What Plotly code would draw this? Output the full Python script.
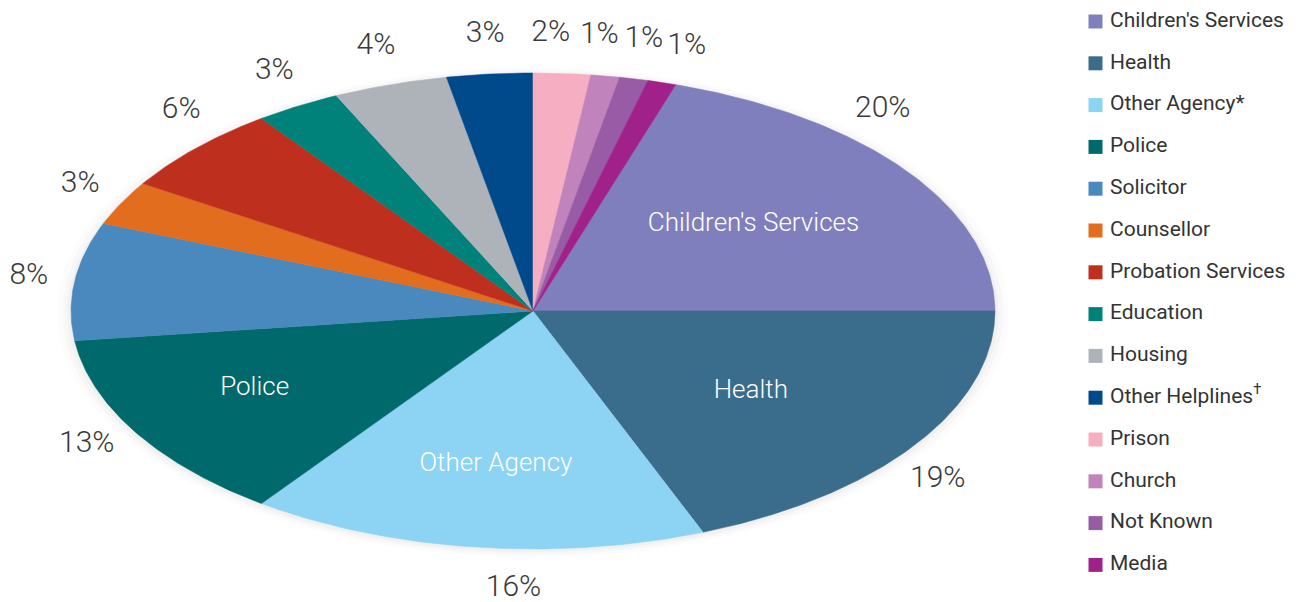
import numpy as np
import plotly.graph_objects as go

categories = ["Children's Services", "Health", "Other Agency*", "Police", "Solicitor",
              "Counsellor", "Probation Services", "Education", "Housing",
              "Other Helplines<sup>†</sup>", "Prison", "Church", "Not Known", "Media"]
values = [20, 19, 16, 13, 8, 3, 6, 3, 4, 3, 2, 1, 1, 1]
inside_labels = ["Children's Services", "Health", "Other Agency", "Police"]
colors = ["#7F7FBD", "#3A6C8C", "#8DD3F3", "#00696B", "#4A89BE", "#E36D1F", "#BE2F1E",
          "#00827A", "#AEB3BA", "#004A8C", "#F5AEC2", "#C083BB", "#985BA5", "#A0218A"]

# layout / style (page has an 8px body margin)
W, H = 1290, 594
CX, CY, RX, RY = 525, 303, 462, 238
start_deg = 18.0  # clockwise from 12 o'clock
lab_rx, lab_ry = 1.10, 1.168
label_nudge = {0: -10.5, 1: 3, 2: -5, 3: 2, 6: 3, 10: -1.6, 11: -1.5, 13: 1.4}
inside_r = [(0.59, 0.62), (0.57, 0.60), (0.64, 0.65), (0.70, 0.64)]
LEG_X_MARK, LEG_X_TEXT, LEG_Y0, LEG_DY = 1087.5, 1102, 13.5, 41.8

fig = go.Figure()

# faint shadow
for s, op in [(1.03, 0.012), (1.018, 0.018), (1.008, 0.025)]:
    t = np.linspace(0, 2 * np.pi, 200)
    fig.add_trace(go.Scatter(x=s * np.sin(t), y=s * np.cos(t) - 0.006, mode="lines",
                             fill="toself", fillcolor=f"rgba(0,0,0,{op})",
                             line=dict(width=0), hoverinfo="skip", showlegend=False))

total = sum(values)
ang = start_deg
mids = []
for i, v in enumerate(values):
    span = 360.0 * v / total
    t = np.radians(np.linspace(ang, ang + span, max(int(span * 2), 4)))
    xs = np.concatenate([[0], np.sin(t), [0]])
    ys = np.concatenate([[0], np.cos(t), [0]])
    fig.add_trace(go.Scatter(x=xs, y=ys, mode="lines", fill="toself",
                             fillcolor=colors[i], line=dict(width=0.5, color=colors[i]),
                             hoverinfo="text", text=f"{categories[i]}: {v}%",
                             name=categories[i], showlegend=False))
    mids.append(ang + span / 2)
    ang += span

# outside percentage labels
lx, ly, lt = [], [], []
for i, v in enumerate(values):
    a = np.radians(mids[i] + label_nudge.get(i, 0))
    lx.append(lab_rx * np.sin(a))
    ly.append(lab_ry * np.cos(a))
    lt.append(f"{v}%")
fig.add_trace(go.Scatter(x=lx, y=ly, mode="text", text=lt, textposition="middle center",
                         textfont=dict(family="Roboto", size=30, color="#3a3a3a", weight=300),
                         hoverinfo="skip", showlegend=False))

# inside labels
ix, iy = [], []
for i, lab in enumerate(inside_labels):
    a = np.radians(mids[i])
    ix.append(inside_r[i][0] * np.sin(a))
    iy.append(inside_r[i][1] * np.cos(a))
fig.add_trace(go.Scatter(x=ix, y=iy, mode="text", text=inside_labels,
                         textposition="middle center",
                         textfont=dict(family="Roboto", size=26, color="white", weight=300),
                         hoverinfo="skip", showlegend=False))

# legend (drawn on a second pair of axes in pixel units)
idx = list(range(len(categories)))
fig.add_trace(go.Scatter(x=[LEG_X_MARK] * len(idx), y=idx, mode="markers",
                         marker=dict(symbol="square", size=14, color=colors, line=dict(width=0)),
                         xaxis="x2", yaxis="y2", hoverinfo="skip", showlegend=False))
fig.add_trace(go.Scatter(x=[LEG_X_TEXT] * len(idx), y=idx, mode="text", text=categories,
                         textposition="middle right",
                         textfont=dict(family="Roboto", size=21, color="#333333"),
                         xaxis="x2", yaxis="y2", hoverinfo="skip", showlegend=False))

fig.update_layout(
    width=W, height=H,
    margin=dict(l=0, r=0, t=0, b=0),
    paper_bgcolor="white", plot_bgcolor="rgba(0,0,0,0)",
    xaxis=dict(range=[-CX / RX, (W - CX) / RX], visible=False, domain=[0, 1], fixedrange=True),
    yaxis=dict(range=[(CY - H) / RY, CY / RY], visible=False, domain=[0, 1], fixedrange=True),
    xaxis2=dict(range=[0, W], visible=False, domain=[0, 1], anchor="y2", overlaying="x",
                fixedrange=True),
    yaxis2=dict(range=[(H - LEG_Y0) / LEG_DY, -LEG_Y0 / LEG_DY], visible=False,
                domain=[0, 1], anchor="x2", overlaying="y", fixedrange=True),
    showlegend=False,
)

fig.write_html("out.html")
